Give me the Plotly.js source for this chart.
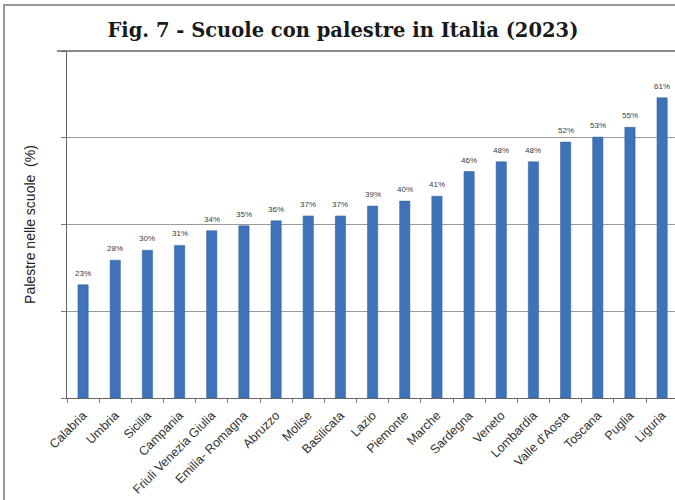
<!DOCTYPE html>
<html>
<head>
<meta charset="utf-8">
<script src="https://cdn.plot.ly/plotly-3.0.1.min.js"></script>
<style>html,body{margin:0;padding:0;background:#fff;}#chart{width:675px;height:500px;}</style>
</head>
<body>
<div id="chart"></div>
<script>
const regions = ["Calabria","Umbria","Sicilia","Campania","Friuli Venezia Giulia","Emilia- Romagna","Abruzzo","Molise","Basilicata","Lazio","Piemonte","Marche","Sardegna","Veneto","Lombardia","Valle d'Aosta","Toscana","Puglia","Liguria"];
const percentages = [23,28,30,31,34,35,36,37,37,39,40,41,46,48,48,52,53,55,61];
const chartTitle = "Fig. 7 - Scuole con palestre in Italia (2023)";
const yTitle = "Palestre nelle scuole  (%)";

const trace = {
  type: 'bar',
  x: regions,
  y: percentages,
  marker: {color: '#3f73b9', line: {color: '#2f5f9f', width: 0.5}},
  hoverinfo: 'x+y'
};

const valueLabels = regions.map((r, i) => ({
  x: r, y: percentages[i], xref: 'x', yref: 'y',
  text: percentages[i] + '%', showarrow: false,
  yanchor: 'bottom', yshift: 5,
  font: {family: 'Liberation Sans, Arial, sans-serif', size: 8, color: '#3a3a3a'}
}));

const L = 67, T = 51, B = 102, W = 675;
const plotW = W - L;
const px2x = p => (p - L) / plotW;
const py2y = p => (500 - B - p) / (500 - T - B);

const layout = {
  width: 675, height: 500,
  margin: {l: L, r: 0, t: T, b: B},
  paper_bgcolor: '#fff', plot_bgcolor: '#fff',
  showlegend: false,
  bargap: 0.68,
  title: {
    text: '<b>' + chartTitle + '</b>',
    font: {family: 'DejaVu Serif, Liberation Serif, serif', size: 19.5, color: '#1a1a1a'},
    xref: 'container', yref: 'container',
    x: 0.508, xanchor: 'center', y: 0.94, yanchor: 'middle'
  },
  xaxis: {
    type: 'category',
    range: [-0.5, 18.4],
    tickangle: -45,
    tickfont: {family: 'Liberation Sans, Arial, sans-serif', size: 12.5, color: '#333'},
    ticks: 'outside', tickson: 'boundaries', ticklen: 4, tickcolor: '#777',
    ticklabelstandoff: 4,
    showline: true, linecolor: '#666', linewidth: 1.2,
    showgrid: false, fixedrange: true
  },
  yaxis: {
    range: [0, 70.5], dtick: 17.625,
    showticklabels: false,
    ticks: 'outside', ticklen: 5, tickcolor: '#777',
    showline: true, linecolor: '#666', linewidth: 1.2,
    showgrid: true, gridcolor: '#9a9a9a', gridwidth: 1,
    zeroline: false,
    title: {text: yTitle, font: {family: 'Liberation Sans, Arial, sans-serif', size: 14, color: '#222'}, standoff: 22},
    fixedrange: true
  },
  annotations: valueLabels,
  shapes: [
    {type: 'line', xref: 'paper', yref: 'paper', x0: px2x(57), x1: 1.02, y0: 1, y1: 1, line: {color: '#666', width: 1.3}},
    {type: 'rect', xref: 'paper', yref: 'paper', x0: px2x(4), x1: 1.05, y0: py2y(520), y1: py2y(5), line: {color: '#777', width: 1.5}, fillcolor: 'rgba(0,0,0,0)'}
  ]
};

Plotly.newPlot('chart', [trace], layout, {displayModeBar: false, staticPlot: true});
</script>
</body>
</html>
